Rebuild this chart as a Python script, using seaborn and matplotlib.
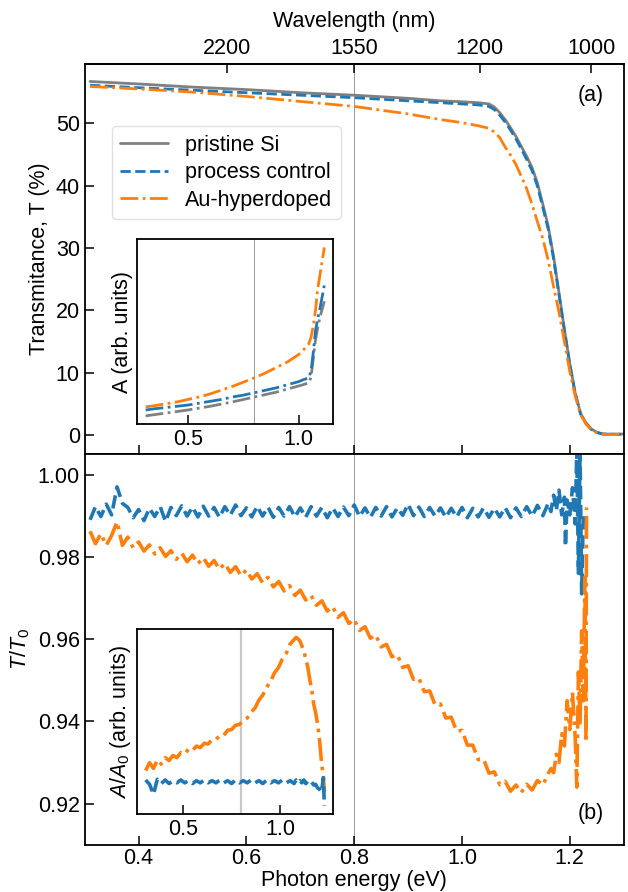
import numpy as np
import pandas as pd
import matplotlib
matplotlib.use("Agg")
import matplotlib.pyplot as plt
import seaborn as sns

# ---------------- data ----------------
# Panel (a): transmittance (%)
e_top = [0.31, 0.40, 0.50, 0.60, 0.70, 0.80, 0.90, 0.96, 1.00, 1.03, 1.05, 1.06, 1.07,
         1.08, 1.09, 1.10, 1.11, 1.12, 1.13, 1.14, 1.15, 1.16, 1.17, 1.18, 1.19, 1.20,
         1.21, 1.22, 1.23, 1.24, 1.25, 1.26, 1.27, 1.28, 1.29, 1.30]
t_pristine = [56.7, 56.3, 55.8, 55.4, 54.9, 54.5, 54.0, 53.6, 53.45, 53.3, 53.1, 52.6, 51.7,
              50.6, 49.3, 47.9, 46.3, 44.7, 42.9, 40.4, 37.0, 33.5, 28.6, 22.8, 17.0, 11.5,
              6.8, 3.5, 2.0, 1.0, 0.5, 0.25, 0.2, 0.2, 0.2, 0.2]
t_control = [56.1, 55.7, 55.3, 54.9, 54.5, 54.1, 53.6, 53.3, 53.1, 52.95, 52.7, 52.2, 51.3,
             50.2, 48.9, 47.5, 45.9, 44.2, 42.4, 39.9, 36.5, 33.0, 28.2, 22.5, 16.8, 11.3,
             6.7, 3.4, 1.9, 0.9, 0.45, 0.2, 0.15, 0.15, 0.15, 0.15]
t_au = [55.9, 55.5, 55.0, 54.3, 53.5, 52.7, 51.5, 50.6, 50.1, 49.6, 49.2, 48.6, 47.7,
        46.2, 44.9, 43.4, 41.5, 39.5, 37.0, 34.2, 31.5, 28.0, 23.8, 19.7, 15.0, 10.2,
        6.3, 3.3, 1.8, 0.9, 0.4, 0.15, 0.1, 0.1, 0.15, 0.15]

# Inset (a): absorptance A (arb. units)
e_ina = [0.31, 0.35, 0.40, 0.45, 0.50, 0.55, 0.60, 0.65, 0.70, 0.75, 0.80, 0.85, 0.90,
         0.95, 1.00, 1.02, 1.045, 1.055, 1.065, 1.075, 1.085, 1.095, 1.105, 1.115]
a_pristine = [3.25, 3.45, 3.7, 3.95, 4.2, 4.5, 4.8, 5.15, 5.5, 5.9, 6.3, 6.7, 7.1,
              7.6, 8.1, 8.3, 8.6, 9.5, 12.5, 15.5, 17.5, 19.2, 20.5, 21.8]
a_control = [4.2, 4.4, 4.6, 4.8, 5.0, 5.3, 5.6, 5.9, 6.3, 6.6, 7.0, 7.4, 7.8,
             8.3, 8.8, 9.1, 9.4, 10.5, 13.5, 17.0, 19.0, 20.6, 22.5, 24.4]
a_au = [4.7, 4.9, 5.2, 5.5, 5.9, 6.3, 6.8, 7.4, 8.0, 8.7, 9.4, 10.2, 11.1,
        12.0, 13.2, 13.9, 14.9, 16.0, 17.8, 20.3, 23.8, 26.0, 28.3, 30.5]

# Panel (b): T/T0
e_b_main = np.round(np.arange(0.31, 1.165, 0.01), 3)
r_control_main = [
    0.9890, 0.9922, 0.9898, 0.9928, 0.9902, 0.9970, 0.9930, 0.9920, 0.9895, 0.9915,
    0.9888, 0.9918, 0.9898, 0.9922, 0.9886, 0.9920, 0.9900, 0.9924, 0.9899, 0.9921,
    0.9897, 0.9923, 0.9899, 0.9920, 0.9896, 0.9922, 0.9901, 0.9926, 0.9900, 0.9919,
    0.9897, 0.9923, 0.9899, 0.9921, 0.9896, 0.9920, 0.9899, 0.9922, 0.9897, 0.9919,
    0.9896, 0.9922, 0.9899, 0.9920, 0.9895, 0.9919, 0.9898, 0.9921, 0.9900, 0.9926,
    0.9898, 0.9919, 0.9896, 0.9920, 0.9899, 0.9922, 0.9897, 0.9919, 0.9901, 0.9928,
    0.9900, 0.9921, 0.9898, 0.9920, 0.9899, 0.9919, 0.9896, 0.9918, 0.9897, 0.9920,
    0.9895, 0.9918, 0.9897, 0.9919, 0.9896, 0.9918, 0.9897, 0.9920, 0.9895, 0.9919,
    0.9898, 0.9922, 0.9899, 0.9925, 0.9900, 0.9930]
e_b_control_tail = [1.165, 1.17, 1.175, 1.18, 1.185, 1.19, 1.192, 1.195, 1.20, 1.205,
                    1.21, 1.213, 1.216, 1.219, 1.222, 1.225]
r_control_tail = [0.9910, 0.9950, 0.9912, 0.9962, 0.9902, 0.9945, 0.9825, 0.9938, 0.9902,
                  0.9968, 0.9880, 1.0060, 0.9760, 1.0060, 0.9710, 0.9900]
r_au_main = [
    0.9862, 0.9832, 0.9856, 0.9828, 0.9852, 0.9885, 0.9828, 0.9848, 0.9822, 0.9836,
    0.9814, 0.9829, 0.9807, 0.9822, 0.9801, 0.9815, 0.9794, 0.9809, 0.9788, 0.9804,
    0.9783, 0.9798, 0.9777, 0.9791, 0.9770, 0.9784, 0.9762, 0.9776, 0.9754, 0.9768,
    0.9746, 0.9759, 0.9737, 0.9750, 0.9727, 0.9740, 0.9717, 0.9730, 0.9706, 0.9719,
    0.9695, 0.9706, 0.9682, 0.9693, 0.9668, 0.9679, 0.9653, 0.9664, 0.9638, 0.9648,
    0.9621, 0.9630, 0.9602, 0.9610, 0.9581, 0.9587, 0.9557, 0.9562, 0.9531, 0.9535,
    0.9502, 0.9505, 0.9472, 0.9474, 0.9440, 0.9442, 0.9408, 0.9410, 0.9376, 0.9378,
    0.9342, 0.9342, 0.9307, 0.9308, 0.9274, 0.9277, 0.9246, 0.9254, 0.9230, 0.9245,
    0.9227, 0.9247, 0.9233, 0.9256, 0.9245, 0.9273]
e_b_au_tail = [1.165, 1.17, 1.175, 1.18, 1.185, 1.19, 1.195, 1.20, 1.205, 1.21, 1.213,
               1.216, 1.219, 1.222, 1.225, 1.228, 1.230, 1.231]
r_au_tail = [0.9285, 0.9275, 0.9320, 0.9300, 0.9370, 0.9340, 0.9450, 0.9380, 0.9470,
             0.9360, 0.9240, 0.9520, 0.9390, 0.9620, 0.9450, 0.9750, 0.9350, 0.9920]

# Inset (b): A/A0 (arb. units)
e_inb = [0.31, 0.33, 0.35, 0.37, 0.39, 0.41, 0.43, 0.45, 0.47, 0.49, 0.51, 0.53, 0.55,
         0.57, 0.59, 0.61, 0.63, 0.65, 0.67, 0.69, 0.71, 0.73, 0.75, 0.77, 0.79, 0.81,
         0.83, 0.85, 0.87, 0.89, 0.91, 0.93, 0.95, 0.97, 0.99, 1.01, 1.03, 1.05, 1.07,
         1.08, 1.09, 1.10, 1.11, 1.12, 1.13, 1.14, 1.15, 1.16, 1.17, 1.18, 1.19, 1.20,
         1.21, 1.22, 1.225]
aa_au = [1.15, 1.26, 1.18, 1.30, 1.24, 1.33, 1.29, 1.36, 1.33, 1.40, 1.38, 1.45, 1.43,
         1.49, 1.47, 1.53, 1.52, 1.58, 1.58, 1.64, 1.64, 1.71, 1.72, 1.78, 1.79, 1.85,
         1.88, 1.96, 2.02, 2.13, 2.20, 2.31, 2.39, 2.51, 2.58, 2.70, 2.78, 2.91, 2.97,
         3.00, 2.98, 2.95, 2.88, 2.81, 2.70, 2.59, 2.42, 2.28, 2.08, 1.96, 1.80, 1.58,
         1.28, 1.06, 0.86]
aa_control = [1.02, 0.96, 0.82, 1.03, 0.97, 1.02, 0.97, 1.01, 0.98, 1.02, 0.98, 1.01, 0.97,
              1.01, 0.98, 1.02, 0.98, 1.01, 0.98, 1.02, 0.98, 1.01, 0.97, 1.02, 0.98, 1.01,
              0.98, 1.02, 0.98, 1.01, 0.97, 1.02, 0.98, 1.01, 0.98, 1.02, 0.98, 1.01, 0.97,
              1.02, 0.98, 1.01, 0.98, 1.02, 0.97, 1.00, 0.97, 0.99, 0.95, 0.96, 0.91, 0.89,
              0.85, 1.05, 0.66]

E_SI = "Photon energy (eV)"
C_GRAY, C_BLUE, C_ORANGE = "#808080", "#1f77b4", "#ff7f0e"

# ---------------- style ----------------
sns.set_style("ticks")
plt.rcParams["font.family"] = ["Liberation Sans", "DejaVu Sans"]
plt.rcParams["mathtext.fontset"] = "custom"
plt.rcParams["mathtext.rm"] = "Liberation Sans"
plt.rcParams["mathtext.it"] = "Liberation Sans:italic"
for k in ["text.color", "axes.labelcolor", "xtick.color", "ytick.color", "axes.edgecolor"]:
    plt.rcParams[k] = "black"
FS = 15.5
plt.rcParams["font.size"] = FS
plt.rcParams["axes.linewidth"] = 1.3

fig = plt.figure(figsize=(6.28, 8.92), dpi=100)
W, H = 628.0, 892.0
L, R = 84.7, 623.7
ax1 = fig.add_axes([L / W, 1 - 454 / H, (R - L) / W, (454 - 64) / H])
ax2 = fig.add_axes([L / W, 1 - 844.7 / H, (R - L) / W, (844.7 - 454) / H])

def style_ticks(ax, **kw):
    ax.tick_params(direction="in", length=6.5, width=1.1, labelsize=FS, **kw)

# ---- panel (a) ----
dfa = pd.DataFrame({"E": e_top, "p": t_pristine, "c": t_control, "a": t_au})
sns.lineplot(data=dfa, x="E", y="p", ax=ax1, color=C_GRAY, lw=2.0, label="pristine Si", estimator=None)
sns.lineplot(data=dfa, x="E", y="c", ax=ax1, color=C_BLUE, lw=2.0, linestyle="--", label="process control", estimator=None)
sns.lineplot(data=dfa, x="E", y="a", ax=ax1, color=C_ORANGE, lw=2.0, linestyle="-.", label="Au-hyperdoped", estimator=None)
ax1.axvline(0.8, color="#999999", lw=0.7, zorder=0)
ax1.set_xlim(0.3, 1.3)
ax1.set_ylim(-3.0, 59.5)
ax1.set_yticks([0, 10, 20, 30, 40, 50])
ax1.set_xticks([0.4, 0.6, 0.8, 1.0, 1.2])
ax1.set_xlabel("")
ax1.set_ylabel("Transmitance, T (%)", fontsize=FS)
style_ticks(ax1, labelbottom=False)
ax1.legend(loc="upper left", bbox_to_anchor=(0.05, 0.841), borderaxespad=0, fontsize=FS,
           handlelength=2.2, labelspacing=0.3, handletextpad=0.8, framealpha=0.8, edgecolor="0.85")
ax1.text(0.938, 0.918, "(a)", transform=ax1.transAxes, ha="center", va="center", fontsize=FS)

def e2l(x):
    x = np.asarray(x, dtype=float)
    with np.errstate(divide="ignore"):
        return 1239.84 / x

sec = ax1.secondary_xaxis("top", functions=(e2l, e2l))
sec.set_xticks([2200, 1550, 1200, 1000])
sec.tick_params(direction="in", length=6.5, width=1.1, labelsize=FS)
sec.set_xlabel("Wavelength (nm)", fontsize=FS, labelpad=8)

# inset (a)
axa = fig.add_axes([136.7 / W, 1 - 424.3 / H, (333.3 - 136.7) / W, (424.3 - 239) / H])
dfi = pd.DataFrame({"E": e_ina, "p": a_pristine, "c": a_control, "a": a_au})
sns.lineplot(data=dfi, x="E", y="p", ax=axa, color=C_GRAY, lw=2.0, linestyle="-.", estimator=None)
sns.lineplot(data=dfi, x="E", y="c", ax=axa, color=C_BLUE, lw=2.0, linestyle="-.", estimator=None)
sns.lineplot(data=dfi, x="E", y="a", ax=axa, color=C_ORANGE, lw=2.0, linestyle="-.", estimator=None)
axa.axvline(0.8, color="#999999", lw=0.7, zorder=0)
axa.set_xticks([0.5, 1.0])
axa.set_xticklabels(["0.5", "1.0"])
axa.set_yticks([])
axa.set_xlabel("")
axa.set_ylabel("A (arb. units)", fontsize=FS, labelpad=3)
style_ticks(axa)

# ---- panel (b) ----
dfc = pd.DataFrame({"E": np.concatenate([e_b_main, e_b_control_tail]),
                    "r": np.concatenate([r_control_main, r_control_tail])})
dfu = pd.DataFrame({"E": np.concatenate([e_b_main, e_b_au_tail]),
                    "r": np.concatenate([r_au_main, r_au_tail])})
sns.lineplot(data=dfc, x="E", y="r", ax=ax2, color=C_BLUE, lw=2.6, linestyle="--", estimator=None)
sns.lineplot(data=dfu, x="E", y="r", ax=ax2, color=C_ORANGE, lw=2.6, linestyle="-.", estimator=None)
ax2.axvline(0.8, color="#999999", lw=0.7, zorder=0)
ax2.set_xlim(0.3, 1.3)
ax2.set_ylim(0.91, 1.005)
ax2.set_yticks([0.92, 0.94, 0.96, 0.98, 1.00])
ax2.set_yticklabels(["0.92", "0.94", "0.96", "0.98", "1.00"])
ax2.set_xticks([0.4, 0.6, 0.8, 1.0, 1.2])
ax2.set_xticklabels(["0.4", "0.6", "0.8", "1.0", "1.2"])
ax2.set_ylabel("$T/T_0$", fontsize=FS)
style_ticks(ax2)
ax2.tick_params(axis="x", pad=2.5)
ax2.set_xlabel(E_SI, fontsize=FS, labelpad=0.5)
ax2.text(0.939, 0.08, "(b)", transform=ax2.transAxes, ha="center", va="center", fontsize=FS)

# inset (b)
axb = fig.add_axes([136.7 / W, 1 - 814.3 / H, (333.3 - 136.7) / W, (814.3 - 629) / H])
dfb = pd.DataFrame({"E": e_inb, "a": aa_au, "c": aa_control})
sns.lineplot(data=dfb, x="E", y="a", ax=axb, color=C_ORANGE, lw=2.6, linestyle="-.", estimator=None)
sns.lineplot(data=dfb, x="E", y="c", ax=axb, color=C_BLUE, lw=2.6, linestyle="--", estimator=None)
axb.axvline(0.8, color="#c8c8c8", lw=1.6, zorder=0)
axb.set_xticks([0.5, 1.0])
axb.set_xticklabels(["0.5", "1.0"])
axb.set_yticks([])
axb.set_xlabel("")
axb.set_ylabel("$A/A_0$ (arb. units)", fontsize=FS, labelpad=3)
style_ticks(axb)

fig.savefig("out.png", dpi=100)
